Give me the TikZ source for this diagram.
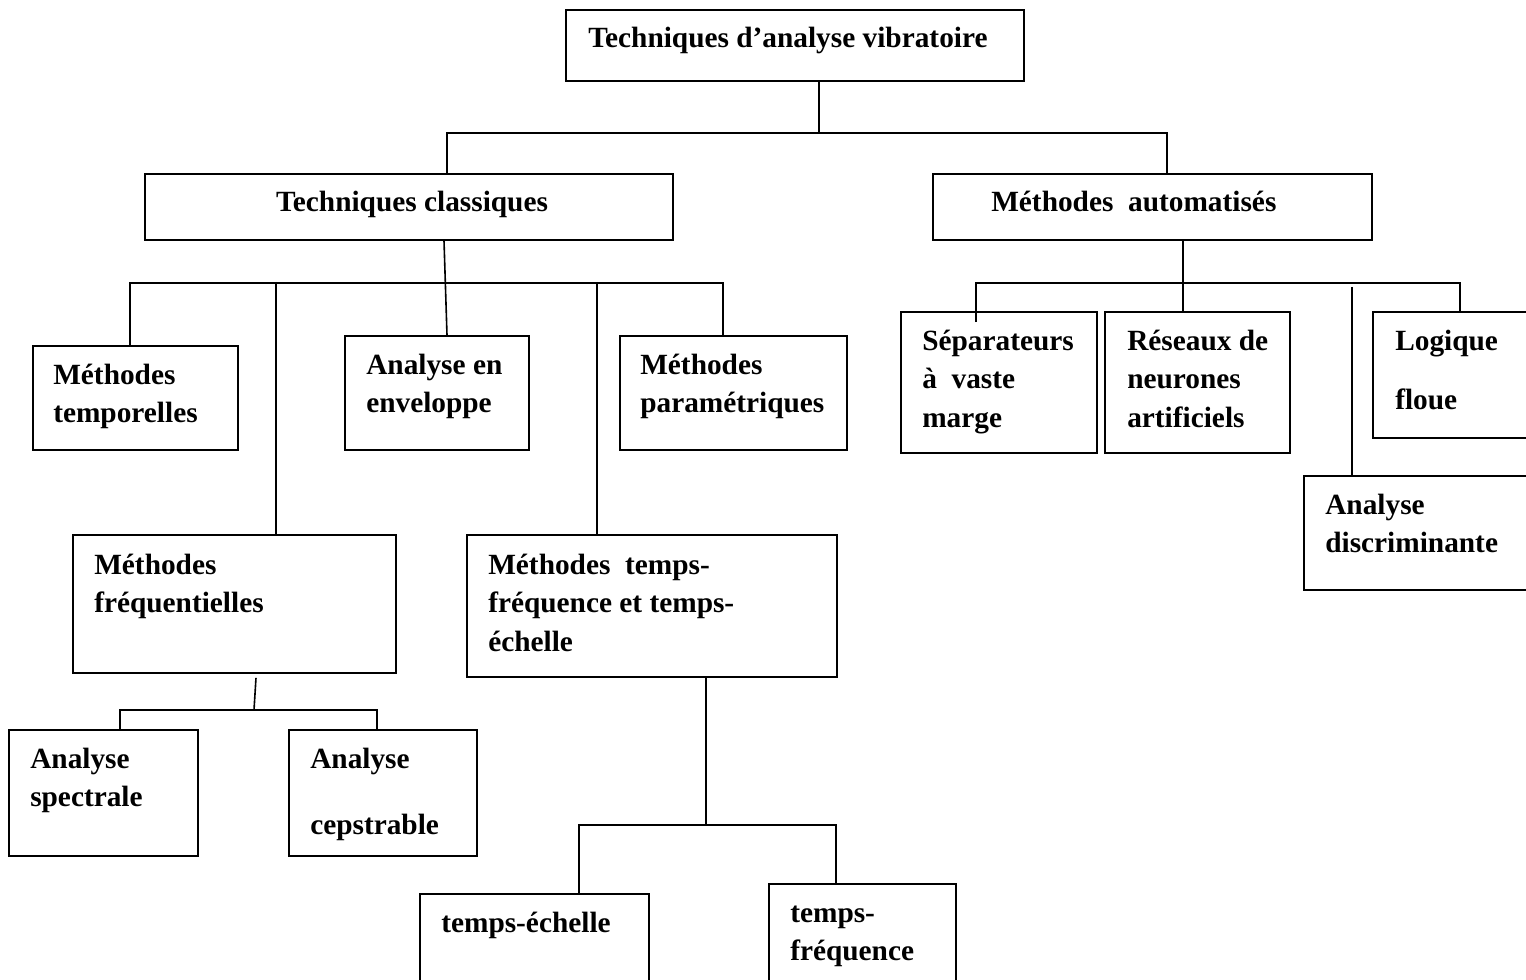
\documentclass[tikz,border=0pt]{standalone}
\usepackage{fontspec}
\setmainfont{Liberation Serif}
\usetikzlibrary{fit,calc}
% multi-line label whose baseline is that of its first line
\newcommand\lines[1]{\begin{tabular}[t]{@{}l@{}}#1\end{tabular}}
\tikzset{
  box/.style={draw, line width=1.2pt, inner sep=0pt},
  lbl/.style={anchor=base west, inner sep=0pt,
              font=\fontsize{22}{28.9}\selectfont\bfseries},
  wire/.style={line width=1.2pt},
}
\begin{document}
\begin{tikzpicture}[x=0.75pt, y=-0.75pt]
\useasboundingbox (0,0) rectangle (1526,980);
\fill[white] (0,0) rectangle (1526,980);

% ---- boxes ----
\node[box, fit={(566,10) (1024,81)}] (root) {};
\node[box, fit={(145,174) (673,240)}] (tc) {};
\node[box, fit={(933,174) (1372,240)}] (am) {};
\node[box, fit={(33,346) (238,450)}] (mt) {};
\node[box, fit={(345,336) (529,450)}] (ae) {};
\node[box, fit={(620,336) (847,450)}] (mp) {};
\node[box, fit={(73,535) (396,673)}] (mf) {};
\node[box, fit={(467,535) (837,677)}] (mtf) {};
\node[box, fit={(9,730) (198,856)}] (as) {};
\node[box, fit={(289,730) (477,856)}] (ac) {};
\node[box, fit={(420,894) (649,992)}] (te) {};
\node[box, fit={(769,884) (956,992)}] (tf) {};
\node[box, fit={(901,312) (1097,453)}] (svm) {};
\node[box, fit={(1105,312) (1290,453)}] (rna) {};
\node[box, fit={(1373,312) (1540,438)}] (lf) {};
\node[box, fit={(1304,476) (1540,590)}] (ad) {};

% ---- labels ----
\node[lbl] (root-t) at (588,48) {Techniques d’analyse vibratoire};
\node[lbl, anchor=base] (tc-t) at (412,212) {Techniques classiques};
\node[lbl] (am-t) at (991,212) {Méthodes\ \ automatisés};
\node[lbl] (mt-t) at (53,384) {\lines{Méthodes\\temporelles}};
\node[lbl] (ae-t) at (366,374) {\lines{Analyse en\\enveloppe}};
\node[lbl] (mp-t) at (640,374) {\lines{Méthodes\\paramétriques}};
\node[lbl] (mf-t) at (94,574) {\lines{Méthodes\\fréquentielles}};
\node[lbl] (mtf-t) at (488,574) {\lines{Méthodes\ \ temps-\\fréquence et temps-\\échelle}};
\node[lbl] (as-t) at (30,768) {\lines{Analyse\\spectrale}};
\node[lbl] (ac-t) at (310,768) {\lines{Analyse\\[20.6pt]cepstrable}};
\node[lbl] (te-t) at (441,932) {temps-échelle};
\node[lbl] (tf-t) at (790,922) {\lines{temps-\\fréquence}};
\node[lbl] (svm-t) at (922,350) {\lines{Séparateurs\\à\ \ vaste\\marge}};
\node[lbl] (rna-t) at (1127,350) {\lines{Réseaux de\\neurones\\artificiels}};
\node[lbl] (lf-t) at (1395,350) {\lines{Logique\\[15.4pt]floue}};
\node[lbl] (ad-t) at (1325,514) {\lines{Analyse\\discriminante}};

% ---- connectors: first level ----
\coordinate (b1l) at (447,133);
\coordinate (b1m) at (819,133);
\coordinate (b1r) at (1167,133);
\draw[wire] (b1m |- root.south) -- (b1m);
\draw[wire] (tc.north -| b1l) |- (b1r) -- (b1r |- am.north);

% ---- classical techniques ----
\coordinate (b2a) at (130,282);
\coordinate (b2b) at (276,282);
\coordinate (b2m) at (444,282);
\coordinate (b2c) at (597,282);
\coordinate (b2d) at (723,283);
\draw[wire] (mt.north -| b2a) |- (b2d) -- (b2d |- mp.north);
\draw[wire] (b2m |- tc.south) -- (ae.north -| b1l);
\draw[wire] (b2b) -- (b2b |- mf.north);
\draw[wire] (b2c) -- (b2c |- mtf.north);

% ---- frequency methods ----
\coordinate (b4a) at (120,710);
\coordinate (b4m) at (254,710);
\coordinate (b4b) at (377,710);
\draw[wire] ($(mf.south)+(21.5,4)$) -- (b4m);
\draw[wire] (as.north -| b4a) |- (b4b) -- (b4b |- ac.north);

% ---- time-frequency methods ----
\coordinate (b5a) at (579,825);
\coordinate (b5m) at (706,825);
\coordinate (b5b) at (836,825);
\draw[wire] (b5m |- mtf.south) -- (b5m);
\draw[wire] (te.north -| b5a) |- (b5b) -- (b5b |- tf.north);

% ---- automated methods ----
\coordinate (b3a) at (976,284);
\coordinate (b3m) at (1183,284);
\coordinate (b3c) at (1352,284);
\coordinate (b3d) at (1460,283);
\draw[wire] ($(svm.north -| b3a)+(0,11)$) |- (b3d) -- (b3d |- lf.north);
\draw[wire] (b3m |- am.south) -- (b3m |- rna.north);
\draw[wire] ($(b3c)+(0,3)$) -- (b3c |- ad.north);
\end{tikzpicture}
\end{document}
